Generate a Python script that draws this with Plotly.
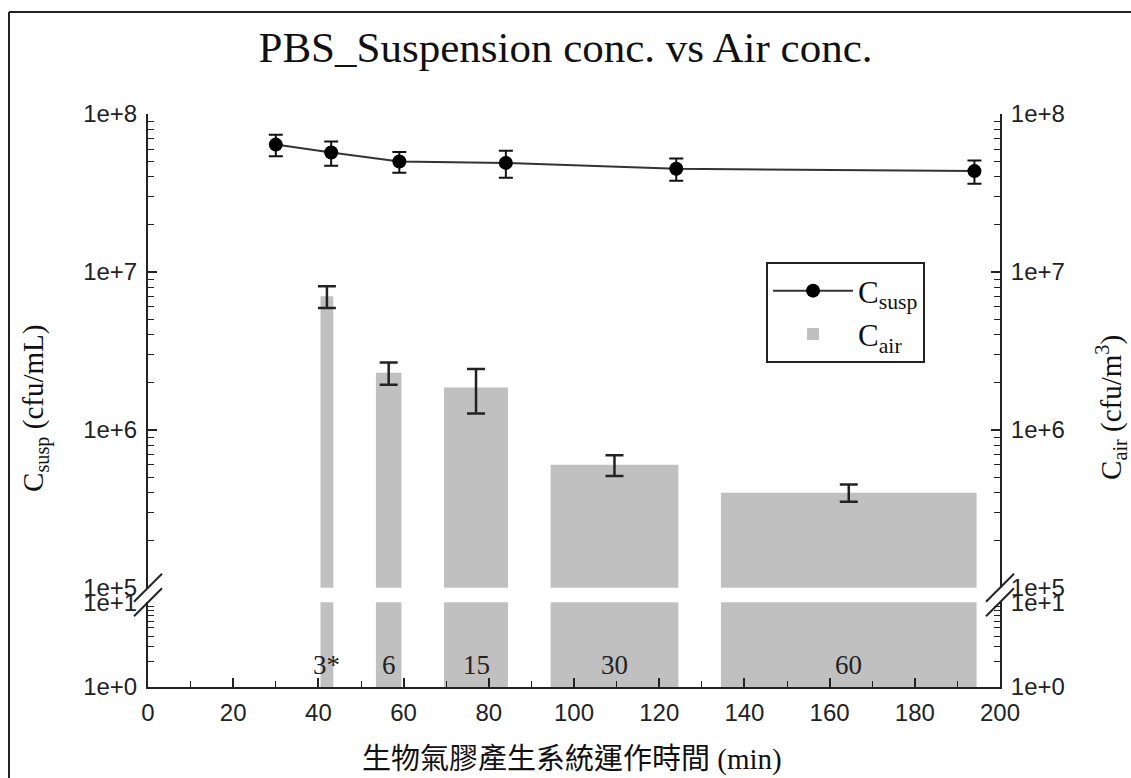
import plotly.graph_objects as go

# ---- data ----
line_x = [30, 43, 59, 84, 124, 194]
c_susp = [6.4e7, 5.7e7, 5.0e7, 4.9e7, 4.5e7, 4.35e7]
c_susp_err = [1.0e7, 1.0e7, 0.75e7, 0.95e7, 0.72e7, 0.73e7]

bar_start = [40.5, 53.5, 69.5, 94.5, 134.5]
durations = [3, 6, 15, 30, 60]
c_air = [7.0e6, 2.3e6, 1.85e6, 6.0e5, 4.0e5]
c_air_err = [1.1e6, 0.37e6, 0.58e6, 0.9e5, 0.5e5]
bar_labels = ["3*", "6", "15", "30", "60"]

x_ticks = [0, 20, 40, 60, 80, 100, 120, 140, 160, 180, 200]
x_minor = [10, 30, 50, 70, 90, 110, 130, 150, 170, 190]
upper_ticks = [1e5, 1e6, 1e7, 1e8]
upper_text = ["1e+5", "1e+6", "1e+7", "1e+8"]
upper_minor = [m * d for d in (1e5, 1e6, 1e7) for m in range(2, 10)]
lower_ticks = [1, 10]
lower_text = ["1e+0", "1e+1"]
lower_minor = [2, 3, 4, 5, 6, 7, 8, 9]

bar_centers = [s + d / 2 for s, d in zip(bar_start, durations)]

AX = "#222222"
SERIF = "Liberation Serif, Times New Roman, serif"
SANS = "Liberation Sans, Arial, sans-serif"
BAR = "#c0c0c0"

fig = go.Figure()
fig.add_trace(go.Scatter(
    x=line_x, y=c_susp, mode="lines+markers", name="C<sub>susp</sub>",
    line=dict(color="#333333", width=2),
    marker=dict(color="black", size=14),
    error_y=dict(type="data", array=c_susp_err, color="#111111", thickness=2, width=7),
    xaxis="x", yaxis="y"))
fig.add_trace(go.Bar(
    x=bar_centers, y=c_air, width=durations, name="C<sub>air</sub>",
    marker=dict(color=BAR, line=dict(width=0)),
    error_y=dict(type="data", array=c_air_err, color="#222222", thickness=2.5, width=9),
    xaxis="x", yaxis="y2"))
fig.add_trace(go.Bar(
    x=bar_centers, y=c_air, width=durations, name="C<sub>air</sub>", showlegend=False,
    marker=dict(color=BAR, line=dict(width=0)),
    xaxis="x", yaxis="y4"))

lower_dom = [0, 0.1478]
upper_dom = [0.1733, 1]

def yax(rng, dom, tv, tt, minor, side, overlay=None):
    d = dict(type="log", range=rng, tickvals=tv, ticktext=tt, ticks="inside", ticklen=9,
             tickwidth=1.5, tickcolor=AX, showline=True, linecolor=AX, linewidth=2,
             showgrid=False, zeroline=False, side=side, anchor="x",
             tickfont=dict(family=SANS, size=24, color="#222"),
             minor=dict(tickvals=minor, ticks="inside", ticklen=6, tickwidth=1.2,
                        tickcolor=AX, showgrid=False),
             ticklabelstandoff=4)
    if overlay:
        d["overlaying"] = overlay
    else:
        d["domain"] = dom
    return d

fig.update_layout(
    width=1131, height=778,
    margin=dict(l=148, r=131, t=114, b=91),
    paper_bgcolor="white", plot_bgcolor="white",
    showlegend=True,
    title=dict(text="PBS_Suspension conc. vs Air conc.", x=0.5, xanchor="center",
               y=1 - 47 / 778, yanchor="middle",
               font=dict(family=SERIF, size=43, color="#111")),
    xaxis=dict(range=[0, 200], tickvals=x_ticks, ticks="inside", ticklen=9, tickwidth=1.5,
               tickcolor=AX, showline=True, linecolor=AX, linewidth=2, showgrid=False,
               zeroline=False, anchor="y3",
               tickfont=dict(family=SANS, size=24, color="#222"),
               minor=dict(tickvals=x_minor, ticks="inside", ticklen=6, tickwidth=1.2,
                          tickcolor=AX, showgrid=False),
               ticklabelstandoff=3),
    xaxis2=dict(range=[0, 200], overlaying="x", side="top", anchor="y",
                tickvals=x_minor, ticks="inside", ticklen=5, tickwidth=1.2, tickcolor=AX,
                showticklabels=False, showline=True, linecolor=AX, linewidth=2,
                showgrid=False, zeroline=False),
    yaxis=yax([5, 8], upper_dom, upper_ticks, upper_text, upper_minor, "left"),
    yaxis2=yax([5, 8], upper_dom, upper_ticks, upper_text, upper_minor, "right", "y"),
    yaxis3=yax([0, 1], lower_dom, lower_ticks, lower_text, lower_minor, "left"),
    yaxis4=yax([0, 1], lower_dom, lower_ticks, lower_text, lower_minor, "right", "y3"),
    legend=dict(x=0.7254, y=0.7417, xanchor="left", yanchor="top",
                bordercolor="#222", borderwidth=2, bgcolor="white",
                font=dict(family=SERIF, size=31, color="#111"),
                itemwidth=80, tracegroupgap=8),
)

# labels of bar durations in the lower panel
for xc, lab in zip(bar_centers, bar_labels):
    fig.add_annotation(x=xc, y=0.26, xref="x", yref="y3", text=lab, showarrow=False,
                       xanchor="center", yanchor="middle",
                       font=dict(family=SERIF, size=27, color="#222"))

# axis titles (span both panels)
fig.add_annotation(x=(36 - 148) / 852, y=0.487, xref="paper", yref="paper", textangle=-90,
                   xanchor="center", yanchor="middle",
                   text="C<sub>susp</sub> (cfu/mL)", showarrow=False,
                   font=dict(family=SERIF, size=29, color="#111"))
fig.add_annotation(x=(1111 - 148) / 852, y=0.487, xref="paper", yref="paper", textangle=-90,
                   xanchor="center", yanchor="middle",
                   text="C<sub>air</sub> (cfu/m<sup>3</sup>)", showarrow=False,
                   font=dict(family=SERIF, size=29, color="#111"))
fig.add_annotation(x=(572 - 148) / 852, y=(687 - 759) / 573, xref="paper", yref="paper",
                   xanchor="center", yanchor="middle",
                   text="生物氣膠產生系統運作時間 (min)", showarrow=False,
                   font=dict(family="Liberation Serif, Noto Sans CJK TC, serif", size=29, color="#111"))

# axis break marks
dx, dy = 14 / 852, 14 / 573
shapes = []
for xb in (0, 1):
    for yb in (upper_dom[0], lower_dom[1]):
        shapes.append(dict(type="line", xref="paper", yref="paper",
                           x0=xb - dx, y0=yb - dy, x1=xb + dx, y1=yb + dy,
                           line=dict(color=AX, width=2)))
# outer frame (left and top edges)
fx, fy = (9 - 148) / 852, (687 - 12) / 573
shapes.append(dict(type="line", xref="paper", yref="paper", x0=fx, y0=fy, x1=fx, y1=-0.3,
                   line=dict(color=AX, width=2)))
shapes.append(dict(type="line", xref="paper", yref="paper", x0=fx, y0=fy, x1=1.3, y1=fy,
                   line=dict(color=AX, width=2)))
fig.update_layout(shapes=shapes)

fig.write_html("out.html")
